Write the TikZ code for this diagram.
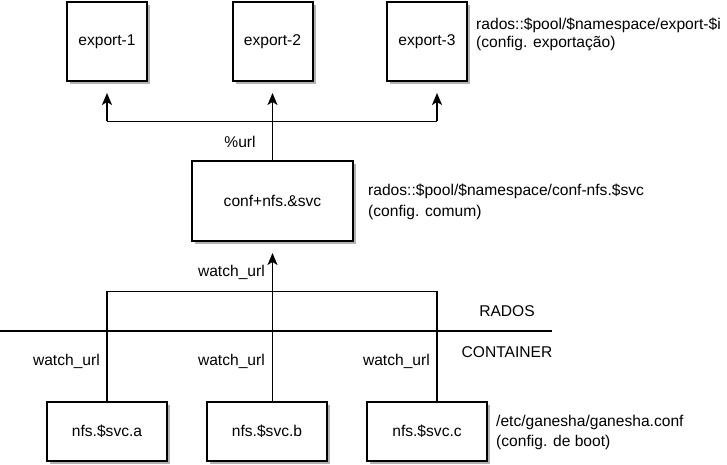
\documentclass[tikz,border=0pt]{standalone}
\usepackage{fontspec}
\setmainfont{Liberation Sans}
\usetikzlibrary{arrows.meta,shadows}

\tikzset{
	box/.style={draw, line width=2pt, fill=white, inner sep=0pt,
		drop shadow={shadow xshift=3pt, shadow yshift=-3pt, fill=black!30, opacity=1}},
	wire/.style={line width=1.6pt},
	arr/.style={wire, -{Stealth[length=12pt,width=10pt,inset=3pt]}, shorten >=11pt},
	lbl/.style={inner sep=0pt, font=\fontsize{15.6}{18}\selectfont},
	note/.style={lbl, align=left, anchor=west}
}

\begin{document}
\begin{tikzpicture}[x=1pt, y=-1pt]
		\useasboundingbox (0,0) rectangle (727,465);
		% export boxes
		\node[box, lbl, minimum width=80pt, minimum height=79pt] (exp1) at (107,41.5) {export-1};
		\node[box, lbl, minimum width=80pt, minimum height=79pt] (exp2) at (272.5,41.5) {export-2};
		\node[box, lbl, minimum width=80pt, minimum height=79pt] (exp3) at (427,41.5) {export-3};
		\node[note] (expnote) at (476,34) {rados::\$pool/\$namespace/export-\$i\\(config. exportação)};
		% common config
		\node[box, lbl, minimum width=161pt, minimum height=80pt] (conf) at (272.5,201) {conf+nfs.\&svc};
		\node[note] (confnote) at (368,202) {rados::\$pool/\$namespace/conf-nfs.\$svc\\[3pt](config. comum)};
		% containers
		\node[box, lbl, minimum width=120pt, minimum height=59pt] (nfsa) at (107,431.5) {nfs.\$svc.a};
		\node[box, lbl, minimum width=120pt, minimum height=59pt] (nfsb) at (267,431.5) {nfs.\$svc.b};
		\node[box, lbl, minimum width=120pt, minimum height=59pt] (nfsc) at (427,431.5) {nfs.\$svc.c};
		\node[note] (bootnote) at (496,432) {/etc/ganesha/ganesha.conf\\[2pt](config. de boot)};

		\coordinate (t1) at (107,121.5);
		\coordinate (t2) at (272.5,121.5);
		\coordinate (t3) at (437,121.5);
		\draw[wire] (t1) -- (t3);
		\draw[wire] (conf.north) -- (t2);
		\draw[arr] (t1) -- (exp1.south);
		\draw[arr] (t2) -- (exp2.south);
		\draw[arr] (t3) -- (t3 |- exp3.south);
		\node[lbl] (url) at (240,142) {\%url};

		\coordinate (b1) at (107,291.5);
		\coordinate (b2) at (272.5,291.5);
		\coordinate (b3) at (437,291.5);
		\draw[wire] (b1 |- nfsa.north) -- (b1) -- (b3) -- (b3 |- nfsc.north);
		\draw[arr] (b2 |- nfsb.north) -- (conf.south);
		\node[lbl, anchor=east] (wtop) at (265,272) {watch\_url};
		\node[lbl, anchor=east] (wa) at (100,361) {watch\_url};
		\node[lbl, anchor=east] (wb) at (265,361) {watch\_url};
		\node[lbl, anchor=east] (wc) at (430,361) {watch\_url};

		% RADOS / container boundary
		\coordinate (sepL) at (0,331);
		\coordinate (sepR) at (552,331);
		\draw[wire] (sepL) -- (sepR);
		\node[lbl] (rados) at (507,311) {RADOS};
		\node[lbl] (cont) at (507,352) {CONTAINER};
	\end{tikzpicture}
\end{document}
